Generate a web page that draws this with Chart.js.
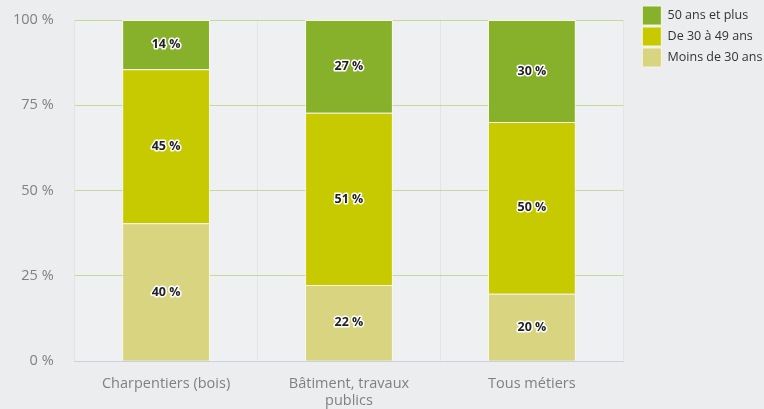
<!DOCTYPE html>
<html>
<head>
<meta charset="utf-8">
<script src="https://cdn.jsdelivr.net/npm/chart.js@4/dist/chart.umd.min.js"></script>
<style>
  html, body { margin: 0; padding: 0; background: #ecedef; }
  #wrap { width: 764px; height: 409px; }
</style>
</head>
<body>
<div id="wrap"><canvas id="ages"></canvas></div>
<script>
// categories and series (share of workers, %)
const metiers = ['Charpentiers (bois)', ['Bâtiment, travaux', 'publics'], 'Tous métiers'];
const moins30 = [40.4, 22.3, 19.8];
const de30a49 = [45.2, 50.5, 50.3];
const plus50 = [14.4, 27.2, 29.9];
const yTicks = [0, 25, 50, 75, 100];

// slightly lighter plot background
const plotBg = {
  id: 'plotBg',
  beforeDraw(chart) {
    const { ctx, chartArea: a } = chart;
    ctx.save();
    ctx.fillStyle = '#eff0f2';
    ctx.fillRect(a.left, a.top, a.right - a.left, a.bottom - a.top);
    ctx.restore();
  }
};

// labels written over each segment, with a white halo
const segmentLabels = {
  id: 'segmentLabels',
  afterDatasetsDraw(chart) {
    const ctx = chart.ctx;
    ctx.save();
    ctx.font = 'bold 12.5px "Open Sans"';
    ctx.textAlign = 'center';
    ctx.textBaseline = 'middle';
    ctx.lineJoin = 'round';
    chart.data.datasets.forEach((ds, i) => {
      chart.getDatasetMeta(i).data.forEach((bar, j) => {
        const txt = Math.round(ds.data[j]) + ' %';
        const y = (bar.y + bar.base) / 2;
        ctx.lineWidth = 3;
        ctx.strokeStyle = '#ffffff';
        ctx.strokeText(txt, bar.x, y);
        ctx.fillStyle = '#222222';
        ctx.fillText(txt, bar.x, y);
      });
    });
    ctx.restore();
  }
};

const configAges = {
  type: 'bar',
  data: {
    labels: metiers,
    datasets: [
      { label: 'Moins de 30 ans', data: moins30, backgroundColor: '#d8d480' },
      { label: 'De 30 à 49 ans', data: de30a49, backgroundColor: '#c8ca00' },
      { label: '50 ans et plus', data: plus50, backgroundColor: '#87b02b' }
    ].map(d => Object.assign(d, {
      borderColor: 'rgba(250,250,225,0.9)',
      borderWidth: 1,
      categoryPercentage: 1,
      barPercentage: 0.48
    }))
  },
  options: {
    responsive: true,
    maintainAspectRatio: false,
    animation: false,
    layout: { padding: { top: 4, right: -6, left: -8, bottom: -15 } },
    plugins: {
      legend: {
        position: 'right',
        align: 'start',
        reverse: true,
        labels: {
          boxWidth: 19,
          boxHeight: 19,
          padding: 2,
          color: '#333',
          font: { family: 'Open Sans', size: 12.5 }
        }
      },
      tooltip: { enabled: false }
    },
    scales: {
      x: {
        stacked: true,
        offset: true,
        grid: { display: true, color: '#e2e4e8', drawTicks: false, offset: true },
        border: { display: true, color: '#c9d1e0' },
        ticks: { color: '#808080', font: { family: 'Open Sans', size: 14.5 }, padding: 14 }
      },
      y: {
        stacked: true,
        min: 0,
        max: 100,
        afterBuildTicks: axis => { axis.ticks = yTicks.map(v => ({ value: v })); },
        afterFit: s => { s.paddingTop = 20; s.paddingBottom = 0; },
        grid: { color: ctx => ctx.tick && ctx.tick.value === 0 ? 'rgba(0,0,0,0)' : '#c4da9a', drawTicks: false },
        border: { display: false },
        ticks: {
          color: '#808080',
          font: { family: 'Open Sans', size: 14.5 },
          padding: 21,
          callback: v => v + ' %'
        }
      },
      // empty axis, only keeps a gap between the plot and the legend
      gap: {
        position: 'right',
        grid: { display: false },
        border: { display: false },
        ticks: { display: false },
        afterFit: s => { s.width = 17; }
      }
    }
  },
  plugins: [plotBg, segmentLabels]
};

const agesChart = new Chart(document.getElementById('ages'), configAges);
</script>
</body>
</html>
